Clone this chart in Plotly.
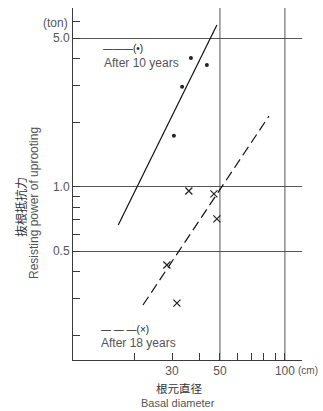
import math
import plotly.graph_objects as go

# ---- data ----
d10_x = [30.6, 33.4, 36.7, 43.5]
d10_y = [1.74, 2.95, 4.03, 3.74]
d18_x = [28.4, 31.6, 35.9, 46.9, 48.4]
d18_y = [0.43, 0.285, 0.957, 0.927, 0.708]
fit10_x = [16.9, 48.4]
fit10_y = [0.663, 5.76]
fit18_x = [22.0, 84.3]
fit18_y = [0.279, 2.15]

x_major = [30, 50, 100]
x_major_text = ["30", "50", "100"]
x_minor = [20, 40, 60, 70, 80, 90]
x_grid = [50, 100]
y_major = [0.5, 1.0, 5.0]
y_major_text = ["0.5", "1.0", "5.0"]
y_minor = [0.2, 0.3, 0.4, 0.6, 0.7, 0.8, 0.9, 2, 3, 4, 6]
x_range = [10.43, 120]
y_range = [0.154, 6.92]

W, H = 323, 411
L, R, T, B = 73, 21, 8, 51
PW, PH = W - L - R, H - T - B


def px(x):
    return (x - L) / PW


def py(y):
    return (H - B - y) / PH


AX = "#3a3a3a"
TXT = "#555555"
LAT = "Liberation Sans, Arial, sans-serif"
CJK = "Noto Sans CJK JP"

fig = go.Figure()
fig.add_trace(go.Scatter(x=fit10_x, y=fit10_y, mode="lines",
                         line=dict(color="#111", width=1.2), showlegend=False))
fig.add_trace(go.Scatter(x=fit18_x, y=fit18_y, mode="lines",
                         line=dict(color="#111", width=1.2, dash="10px,5px"),
                         showlegend=False))
fig.add_trace(go.Scatter(x=d10_x, y=d10_y, mode="markers",
                         marker=dict(color="#222", size=4, symbol="circle"),
                         showlegend=False))
fig.add_trace(go.Scatter(x=d18_x, y=d18_y, mode="markers",
                         marker=dict(color="#222", size=7, symbol="x-thin",
                                     line=dict(color="#222", width=1.2)),
                         showlegend=False))

for v in x_grid:
    fig.add_shape(type="line", xref="x", yref="paper", x0=v, x1=v, y0=0, y1=1,
                  line=dict(color="#555", width=1), layer="below")

fig.update_xaxes(type="log", range=[math.log10(x_range[0]), math.log10(x_range[1])],
                 tickmode="array", tickvals=x_major, ticktext=x_major_text,
                 ticks="inside", ticklen=7, tickcolor=AX, showgrid=False,
                 showline=True, linecolor=AX, linewidth=1, zeroline=False,
                 tickfont=dict(family=LAT, size=12, color=TXT),
                 minor=dict(tickmode="array", tickvals=x_minor, ticks="inside",
                            ticklen=7, tickcolor=AX, showgrid=False))
fig.update_yaxes(type="log", range=[math.log10(y_range[0]), math.log10(y_range[1])],
                 tickmode="array", tickvals=y_major, ticktext=y_major_text,
                 ticks="inside", ticklen=7, tickcolor=AX, showgrid=True,
                 gridcolor="#555", gridwidth=1,
                 showline=True, linecolor=AX, linewidth=1, zeroline=False,
                 tickfont=dict(family=LAT, size=12, color=TXT),
                 minor=dict(tickmode="array", tickvals=y_minor, ticks="inside",
                            ticklen=7, tickcolor=AX, showgrid=False))

ann = [
    dict(text="(ton)", x=px(55), y=py(23), size=12, font=LAT, color=TXT),
    dict(text="(cm)", x=px(308), y=py(370), size=10, font=LAT, color=TXT),
    dict(text="———(•)", x=px(123), y=py(49), size=10, font=LAT, color="#222"),
    dict(text="After 10 years", x=px(141), y=py(63), size=12, font=LAT, color=TXT),
    dict(text="— — —(×)", x=px(125), y=py(329), size=10, font=LAT, color="#222"),
    dict(text="After 18 years", x=px(138), y=py(343), size=12, font=LAT, color=TXT),
    dict(text="根元直径", x=px(179), y=py(388), size=11.5, font=CJK, color="#333"),
    dict(text="Basal diameter", x=px(178), y=py(403), size=11, font=LAT, color=TXT),
    dict(text="抜根抵抗力", x=px(20), y=py(207), size=12, font=CJK, color="#333", angle=-90),
    dict(text="Resisting power of uprooting", x=px(34), y=py(203), size=12, font=LAT,
         color=TXT, angle=-90),
]
for a in ann:
    fig.add_annotation(text=a["text"], x=a["x"], y=a["y"], xref="paper", yref="paper",
                       showarrow=False, xanchor="center", yanchor="middle",
                       textangle=a.get("angle", 0), borderpad=0,
                       font=dict(family=a["font"], size=a["size"], color=a["color"]))

fig.update_layout(width=W, height=H, autosize=False,
                  margin=dict(l=L, r=R, t=T, b=B, pad=0),
                  paper_bgcolor="white", plot_bgcolor="white", showlegend=False)

fig.write_html("out.html")
